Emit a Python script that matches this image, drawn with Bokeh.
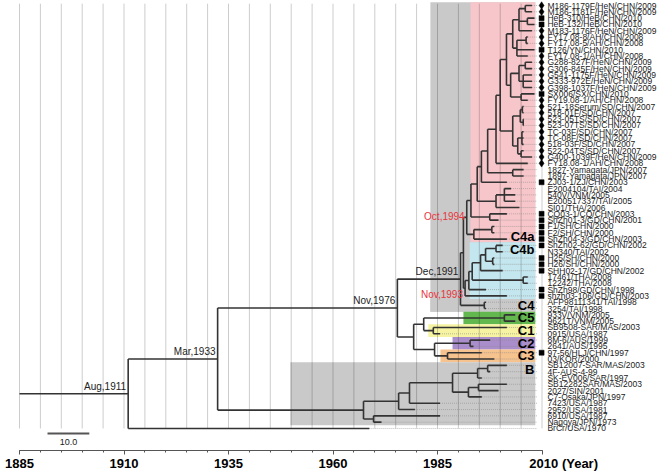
from bokeh.plotting import figure
from bokeh.models import Range1d, FixedTicker
from bokeh.embed import file_html
from bokeh.resources import INLINE
from bokeh.core.properties import value

# ---------------- data ----------------
strain_names = [
    "M186-1179F/HeN/CHN/2009", "M186-1181F/HeN/CHN/2009", "HeB-310/HeB/CHN/2010",
    "HeB-132/HeB/CHN/2010", "M183-1176F/HeN/CHN/2009", "FY17.08-8/AH/CHN/2008",
    "FY17.08-5/AH/CHN/2008", "T126/YN/CHN/2010", "FY17.08-1/AH/CHN/2008",
    "G288-827F/HeN/CHN/2009", "G306-845F/HeN/CHN/2009", "G541-1175F/HeN/CHN/2009",
    "G333-972E/HeN/CHN/2009", "G398-1037F/HeN/CHN/2009", "SX006/SX/CHN/2010",
    "FY19.08-1/AH/CHN/2008", "521-18Serum/SD/CHN/2007", "518-01F/SD/CHN/2007",
    "523-05TS/SD/CHN/2007", "523-07TS/SD/CHN/2007", "TC-03F/SD/CHN/2007",
    "TC-08F/SD/CHN/2007", "518-03F/SD/CHN/2007", "522-04TS/SD/CHN/2007",
    "G400-1039F/HeN/CHN/2009", "FY18.08-1/AH/CHN/2008", "1827-Yamagata/JPN/2007",
    "1897-Yamagata/JPN/2007", "ZJ03-1/ZJ/CHN/2003", "E2004104/TAI/2004",
    "540V/VNM/2005", "E200517337/TAI/2005", "SI01/THA/2006",
    "CQ03-1/CQ/CHN/2003", "ShZh01-3/GD/CHN/2001", "F1/SH/CHN/2000",
    "F2/SH/CHN/2000", "ShZh04-3/GD/CHN/2003", "ShZh02-62/GD/CHN/2002",
    "N3340/TAI/2002", "H25/SH/CHN/2000", "H26/SH/CHN/2000",
    "SHH02-17/GD/CHN/2002", "17461/THA/2008", "12242/THA/2008",
    "ShZh98/GD/CHN/1998", "shzh03-106/GD/CHN/2003", "AFP98111341/TAI/1998",
    "3254/TAI/1998", "933V/VNM/2005", "9621T/VNM/2005",
    "SB9508-SAR/MAS/2003", "0915/USA/1987", "8M-6/AUS/1999",
    "2641/AUS/1995", "97-56/HLJ/CHN/1997", "03/KOR/2000",
    "SB12007-SAR/MAS/2003", "4F-AUS-4-99", "SK-EV006/SAR/1997",
    "SB12282SAR/MAS/2003", "2027/SIN/2001", "C7-Osaka/JPN/1997",
    "7423/USA/1987", "2952/USA/1981", "6910/USA/1987",
    "Nagoya/JPN/1973", "BrCr/USA/1970",
]

# D = diamond, S = square, "" = no symbol
strain_symbol = [
    "D", "D", "S", "S", "D", "D", "D", "S", "D", "D", "D", "D", "D", "D", "S", "D",
    "D", "D", "D", "D", "D", "D", "D", "D", "D", "D", "", "", "S", "", "", "", "",
    "S", "S", "S", "S", "S", "S", "", "S", "S", "S", "", "", "S", "S", "", "",
    "", "", "", "", "", "", "S", "", "", "", "", "", "", "", "", "", "", "", "",
]

# tip positions on the time axis
tip_time = [
    2007.6, 2007.6, 2008.2, 2008.2, 2007.6, 2006.6, 2006.6, 2008.2, 2006.6, 2007.6,
    2007.6, 2007.6, 2007.6, 2007.6, 2008.2, 2006.6, 2005.6, 2005.6, 2005.6, 2005.6,
    2005.6, 2005.6, 2005.6, 2005.6, 2007.6, 2006.6, 2005.6, 2005.6, 2001.6, 2002.6,
    2003.6, 2003.6, 2004.6, 2001.6, 1999.6, 1998.6, 1998.6, 2001.6, 2000.6, 2000.6,
    1998.6, 1998.6, 2000.6, 2006.6, 2006.6, 1996.6, 2001.6, 1996.6, 1996.6, 2003.6,
    2003.6, 2001.6, 1985.6, 1997.6, 1993.6, 1995.6, 1998.6, 2001.6, 1997.6, 1995.6,
    2001.6, 1999.6, 1995.6, 1985.6, 1979.6, 1985.6, 1971.6, 1968.7,
]

# internal nodes: name, time, children (leaves are "L<index>")
node_names = [
    "root", "n1933", "n1976", "n1991", "nX", "nC4", "nC", "nC51", "nC5", "nC1",
    "nC23", "nC2", "nC3", "nB0", "nB1", "nB2", "nB3", "nB4", "nB4a", "nB5", "nB5a",
    "nB6", "b_root", "b1", "b2", "b3", "b4", "b3839", "b4041", "b4344",
    "a_root", "a_low", "aF", "a_up", "a3334", "au1", "a2932", "a2931", "au2", "au3",
    "aYam", "au4", "au5", "a_sd", "a_sdA", "a_sdA1", "a_sdA2", "a_sdB", "a_sdB1",
    "a_sdB2", "a_top", "a_t1", "a_t1a", "a_t1a1", "a_t1a2", "a_t1b", "a_t1b1",
    "a_t2", "a_t2a", "a_t2a1", "a_t2a2", "a_t2b",
]
node_time = [
    1911.0, 1932.4, 1975.4, 1990.5, 1991.2, 1996.2, 1979.3, 1981.7, 2001.0, 1984.0,
    1984.3, 1992.8, 1987.4, 1967.3, 1975.7, 1978.3, 1988.6, 1994.6, 1997.0, 1992.4, 1994.8,
    1969.7, 1991.6, 1992.5, 1993.3, 1995.3, 1996.5, 1999.0, 1998.2, 2005.5,
    1992.0, 1993.7, 1998.0, 1993.0, 1997.5, 1994.5, 1999.0, 2001.0, 1995.5, 1997.0,
    2003.0, 1999.0, 2000.0, 2003.0, 2004.8, 2005.3, 2005.5, 2004.2, 2005.2,
    2005.0, 2001.5, 2003.0, 2004.5, 2006.0, 2006.5, 2004.0, 2006.2,
    2002.5, 2004.5, 2006.0, 2005.5, 2005.0,
]
node_children = [
    ["n1933", "L67"], ["n1976", "nB0"], ["n1991", "nC"], ["nX", "nC4"],
    ["a_root", "b_root"], ["L47", "L48"], ["nC51", "nC23"], ["nC5", "nC1"],
    ["L49", "L50"], ["L51", "L52"], ["nC2", "nC3"], ["L53", "L54"], ["L55", "L56"],
    ["nB1", "nB6"], ["nB2", "L64"], ["nB3", "L63"], ["nB4", "nB5"], ["nB4a", "L59"],
    ["L57", "L58"], ["nB5a", "L62"], ["L60", "L61"], ["L65", "L66"],
    ["b1", "L46"], ["b2", "L45"], ["b3", "b4344"], ["b4", "L42"], ["b3839", "b4041"],
    ["L38", "L39"], ["L40", "L41"], ["L43", "L44"],
    ["a_up", "a_low"], ["aF", "L37"], ["L35", "L36"], ["au1", "a3334"], ["L33", "L34"],
    ["au2", "a2932"], ["a2931", "L32"], ["L29", "L30", "L31"], ["au3", "L28"],
    ["au4", "aYam"], ["L26", "L27"], ["au5", "L25"], ["a_top", "a_sd"],
    ["a_sdA", "a_sdB"], ["a_sdA1", "a_sdA2"], ["L16", "L17"], ["L18", "L19"],
    ["a_sdB1", "a_sdB2"], ["L20", "L21", "L22"], ["L23", "L24"],
    ["a_t1", "a_t2"], ["a_t1a", "a_t1b"], ["a_t1a1", "a_t1a2", "L4"], ["L0", "L1"],
    ["L2", "L3"], ["a_t1b1", "L7", "L8"], ["L5", "L6"],
    ["a_t2a", "a_t2b"], ["a_t2a1", "a_t2a2"], ["L9", "L10"], ["L11", "L12", "L13"],
    ["L14", "L15"],
]
root_start = 1885.0

# dated node labels
date_labels = ["Aug,1911", "Mar,1933", "Nov,1976", "Dec,1991", "Oct,1994", "Nov,1993"]
date_label_node = ["root", "n1933", "n1976", "n1991", "a_root", "b_root"]
date_label_color = ["#222222", "#222222", "#222222", "#222222", "#e8343c", "#e8343c"]

# clade highlight boxes
clade_names = ["", "C4a", "C4b", "C4", "C5", "C1", "C2", "C3", "B"]
clade_start = [1983.3, 1992.9, 1992.7, 1983.3, 1991.2, 1982.8, 1988.6, 1985.7, 1949.8]
clade_first = [0, 0, 38, 47, 49, 51, 53, 55, 57]
clade_last = [48, 37, 46, 48, 50, 52, 54, 56, 66]
clade_color = ["#c9c9c9", "#f7c6ca", "#c4e6ee", "#c9c9c9", "#62b84e",
               "#f6f3a3", "#aa8ecb", "#f6c28e", "#c9c9c9"]
clade_label_row = [None, 36.6, 38.7, 47.5, 49.5, 51.5, 53.5, 55.5, 57.7]
clade_end = 2008.4

axis_major = [1885, 1910, 1935, 1960, 1985, 2010]
axis_minor = list(range(1885, 2011, 5))
axis_unit = "(Year)"
grid_years = list(range(1885, 2011, 5))
scale_bar_years = 10.0

# ---------------- layout helpers ----------------
FONT = "Liberation Sans"
nodes = {n: (t, c) for n, t, c in zip(node_names, node_time, node_children)}


def ypos(name):
    if name.startswith("L"):
        return float(name[1:])
    ch = nodes[name][1]
    return (ypos(ch[0]) + ypos(ch[-1])) / 2.0


def xpos(name):
    if name.startswith("L"):
        return tip_time[int(name[1:])]
    return nodes[name][0]


x0, y0, x1, y1 = [], [], [], []
for n in node_names:
    t, ch = nodes[n]
    x0.append(t); x1.append(t); y0.append(ypos(ch[0])); y1.append(ypos(ch[-1]))
    for c in ch:
        x0.append(t); x1.append(xpos(c)); y0.append(ypos(c)); y1.append(ypos(c))
x0.append(root_start); x1.append(node_time[0]); y0.append(ypos("root")); y1.append(ypos("root"))

n_leaf = len(strain_names)
rows = list(range(n_leaf))

px_per_year = 4.18
row_px = 6.313
frame_w, frame_h = 662, 450
x_start = 1885 - 19 / px_per_year
top_idx = -5 / row_px
bot_idx = top_idx + frame_h / row_px

p = figure(frame_width=frame_w, frame_height=frame_h, output_backend="svg",
           toolbar_location=None, y_axis_location=None,
           x_range=Range1d(x_start, x_start + frame_w / px_per_year),
           y_range=Range1d(bot_idx, top_idx), min_border=0)
p.outline_line_color = None
p.xgrid.visible = False
p.ygrid.visible = False
p.background_fill_color = "white"
p.border_fill_color = "white"

# clade boxes
p.quad(left=clade_start, right=[clade_end] * len(clade_start),
       top=[f - 0.5 for f in clade_first], bottom=[l + 0.5 for l in clade_last],
       fill_color=clade_color, line_color=None)

# vertical grid lines
p.segment(x0=grid_years, x1=grid_years, y0=[top_idx + 0.5] * len(grid_years),
          y1=[n_leaf - 1] * len(grid_years), line_color="black", line_alpha=0.2,
          line_width=1)

# leader lines
p.segment(x0=tip_time, x1=[2008.8] * n_leaf, y0=rows, y1=rows,
          line_color="#8a8a8a", line_dash="1 1", line_width=0.7, line_alpha=0.8)

# tree
p.segment(x0=x0, y0=y0, x1=x1, y1=y1, line_color="#333333", line_width=1.6)

# symbols
d_rows = [i for i, s in enumerate(strain_symbol) if s == "D"]
s_rows = [i for i, s in enumerate(strain_symbol) if s == "S"]
p.scatter(x=[2009.9] * len(d_rows), y=d_rows, marker="diamond", size=7.5,
          fill_color="black", line_color="black", line_width=0.5)
p.scatter(x=[2009.9] * len(s_rows), y=s_rows, marker="square", size=5,
          fill_color="black", line_color="black", line_width=0.5)

# strain names
p.text(x=[2011.3] * n_leaf, y=rows, text=strain_names, text_font=value(FONT),
       text_font_size="8.5px", text_baseline="middle", text_align="left",
       text_color="#222222")

# clade labels
cl_txt = [c for c in clade_names if c]
cl_row = [r for c, r in zip(clade_names, clade_label_row) if c]
p.text(x=[2008.2] * len(cl_txt), y=cl_row, text=cl_txt, text_font=value(FONT),
       text_font_size="13px", text_font_style="bold", text_align="right",
       text_baseline="middle", text_color="black")

# dated node labels
for lab, nd, col in zip(date_labels, date_label_node, date_label_color):
    t = nodes[nd][0]
    y = ypos(nd)
    if lab == "Nov,1993":
        base, off = "top", 0.2
    elif lab == "Oct,1994":
        base, off = "middle", -0.1
    else:
        base, off = "bottom", -0.3
    p.text(x=[t - 0.5], y=[y + off], text=[lab], text_font=value(FONT),
           text_font_size="10px", text_align="right", text_baseline=base,
           text_color=col)

# scale bar
p.segment(x0=[1891.7], x1=[1891.7 + scale_bar_years], y0=[67.8], y1=[67.8],
          line_color="#555555", line_width=2)
p.text(x=[1891.7 + scale_bar_years / 2], y=[69.1], text=["10.0"],
       text_font=value(FONT), text_font_size="9px", text_align="center",
       text_baseline="middle", text_color="#222222")

# axis
ax = p.xaxis[0]
ax.ticker = FixedTicker(ticks=axis_major, minor_ticks=axis_minor)
ax.bounds = (1885, 2010)
pad = "\u2007" * 6
ax.major_label_overrides = {2010: pad + "2010 " + axis_unit}
ax.major_label_text_font = FONT
ax.major_label_text_font_style = "bold"
ax.major_label_text_font_size = "13px"
ax.major_label_text_color = "black"
ax.major_tick_out = 4
ax.major_tick_in = 0
ax.minor_tick_out = 2
ax.minor_tick_in = 0
ax.major_label_standoff = 1
ax.axis_line_color = "#555555"
ax.major_tick_line_color = "#555555"
ax.minor_tick_line_color = "#555555"

open("out.html", "w").write(file_html(p, INLINE))
